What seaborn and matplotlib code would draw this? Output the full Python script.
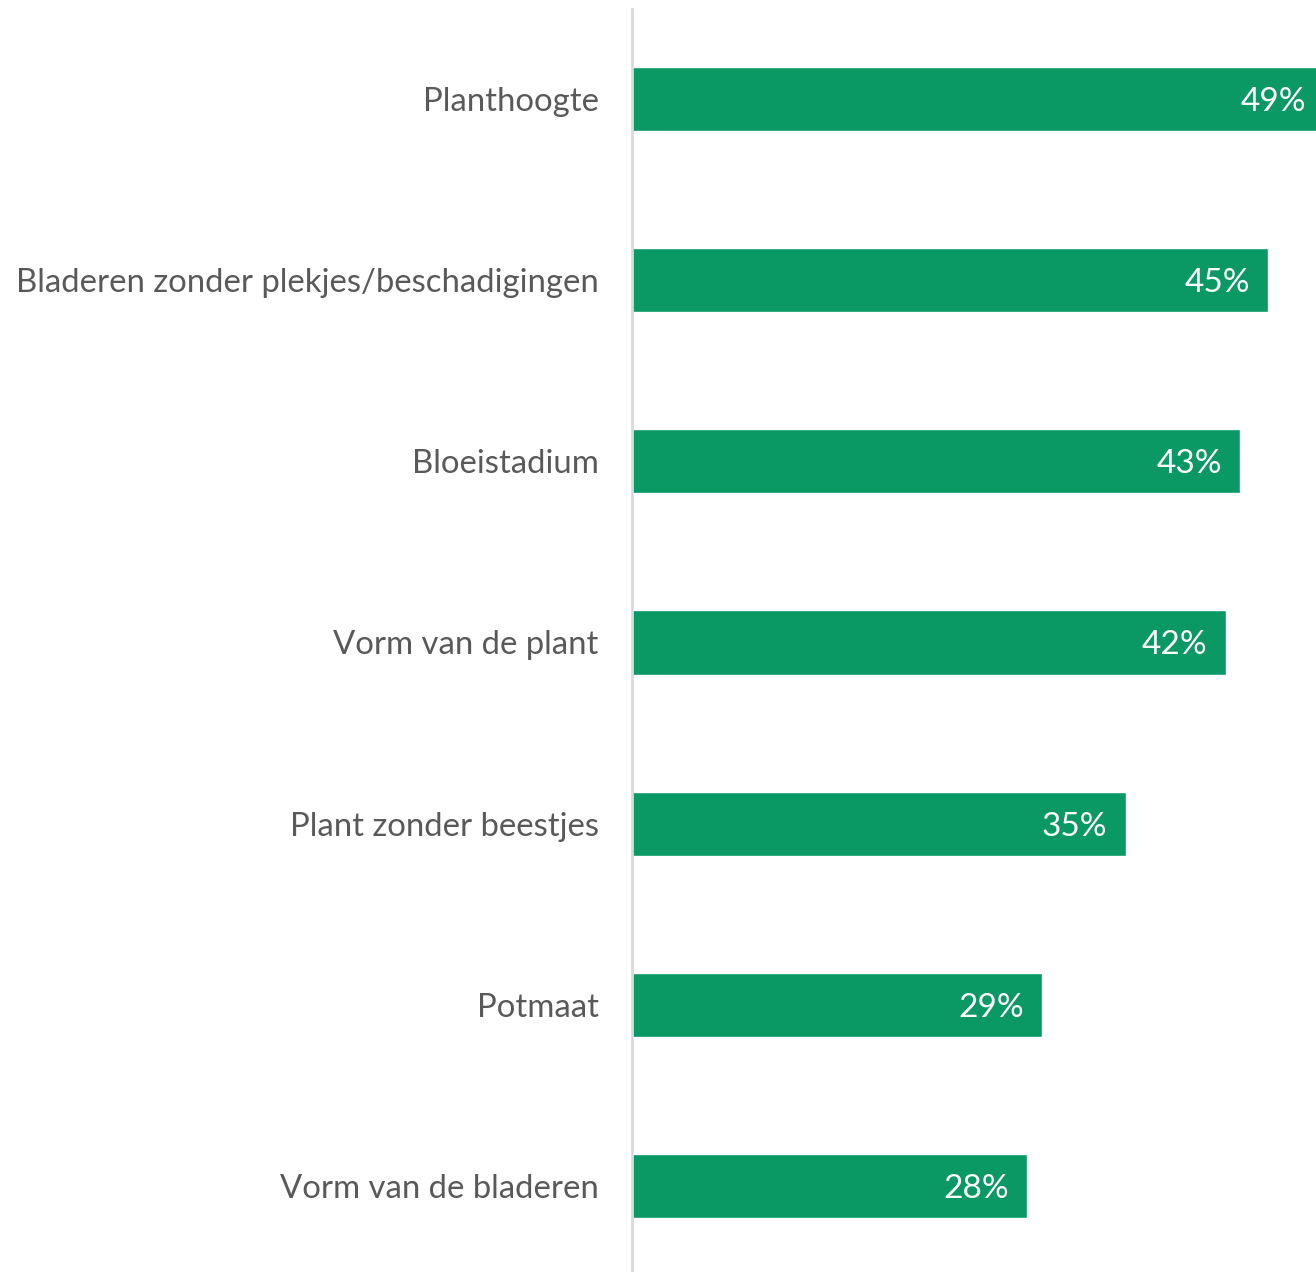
import matplotlib
matplotlib.use("Agg")
import matplotlib.pyplot as plt
import seaborn as sns
import pandas as pd

# data
categories = [
    "Planthoogte",
    "Bladeren zonder plekjes/beschadigingen",
    "Bloeistadium",
    "Vorm van de plant",
    "Plant zonder beestjes",
    "Potmaat",
    "Vorm van de bladeren",
]
values = [49.1, 45.1, 43.1, 42.1, 35.0, 29.1, 28.0]
value_labels = ["49%", "45%", "43%", "42%", "35%", "29%", "28%"]

df = pd.DataFrame({"categorie": categories, "waarde": values})

sns.set_style("white")
plt.rcParams["font.family"] = ["Lato", "DejaVu Sans"]

fig = plt.figure(figsize=(13.16, 12.72), dpi=100)
ax = fig.add_axes([632 / 1316, 0, 684 / 1316, 1 - 9 / 1272])

sns.barplot(data=df, x="waarde", y="categorie", color="#0a9865", saturation=1,
            width=0.354, ax=ax)

# the longest bar runs off the right edge, as in the original
ax.set_xlim(0, 48.5)
ax.set_ylim(len(categories) - 1 + 0.475, -0.497)

for i, (v, lab) in enumerate(zip(values, value_labels)):
    ax.text(v - 1.28, i, lab, color="white", fontsize=24, ha="right",
            va="center_baseline", clip_on=False)

ax.set_xlabel("")
ax.set_ylabel("")
ax.set_xticks([])
ax.tick_params(axis="y", length=0, pad=24, labelsize=23.7, labelcolor="#595959")
for side in ["top", "right", "bottom"]:
    ax.spines[side].set_visible(False)
ax.spines["left"].set_color("#d9d9d9")
ax.spines["left"].set_linewidth(2)

fig.savefig("out.png", dpi=100)
